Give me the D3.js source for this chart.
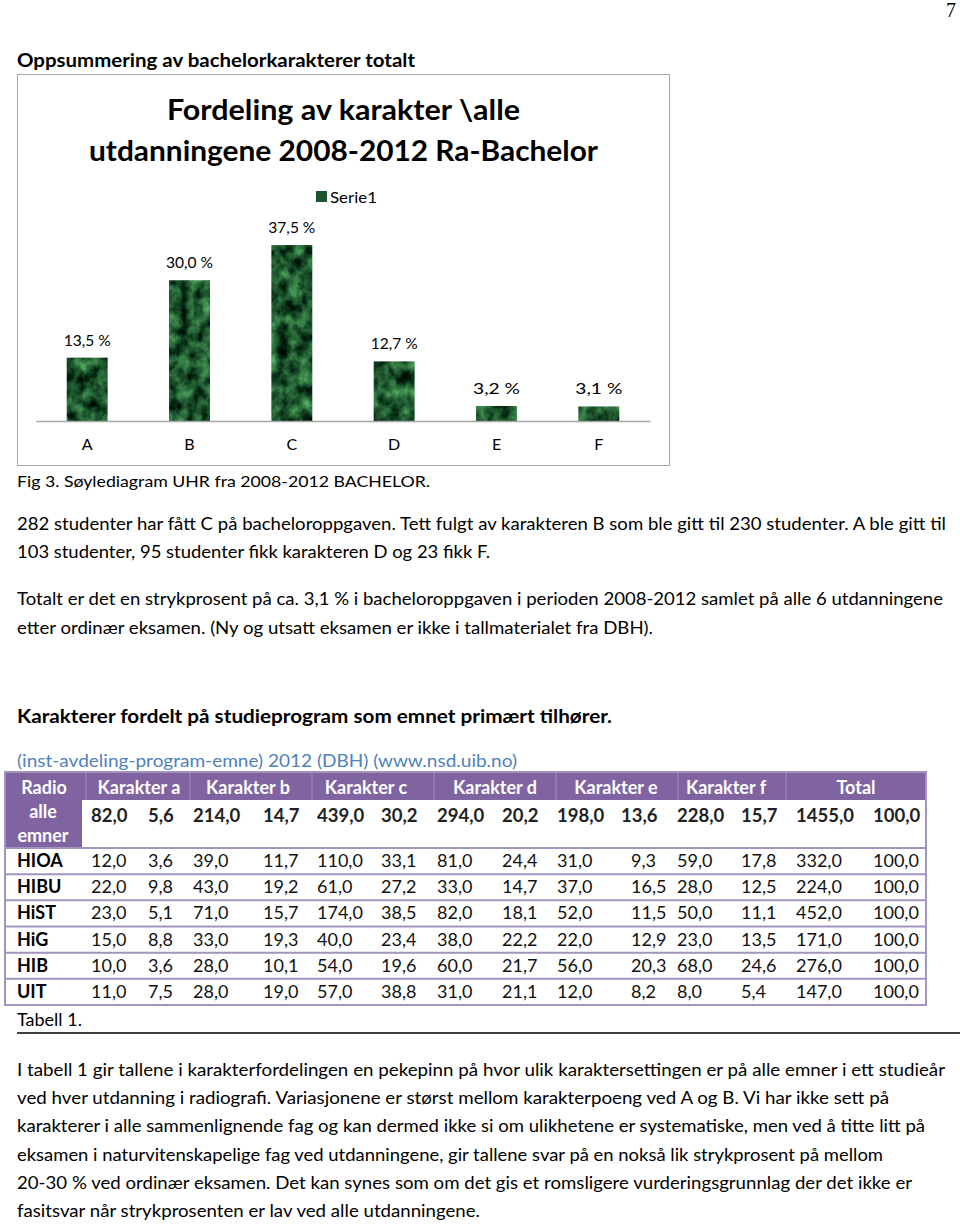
<!DOCTYPE html>
<html><head><meta charset="utf-8">
<script src="https://cdn.jsdelivr.net/npm/d3@7/dist/d3.min.js"></script>
<style>html,body{margin:0;padding:0;background:#fff}svg{display:block}</style>
</head><body><div id="c"></div>
<script>
// ---------- DATA ----------
const categories = ["A", "B", "C", "D", "E", "F"];
const percentages = [13.5, 30.0, 37.5, 12.7, 3.2, 3.1];
const seriesName = "Serie1";
const chartTitle = ["Fordeling av karakter \\alle", "utdanningene 2008-2012 Ra-Bachelor"];

const tableHeaders = ["Radio", "Karakter a", "Karakter b", "Karakter c", "Karakter d", "Karakter e", "Karakter f", "Total"];
const totalLabel = ["alle", "emner"];
const totalRow = [82.0, 5.6, 214.0, 14.7, 439.0, 30.2, 294.0, 20.2, 198.0, 13.6, 228.0, 15.7, 1455.0, 100.0];
const rowLabels = ["HIOA", "HIBU", "HiST", "HiG", "HIB", "UIT"];
const rowHIOA = [12.0, 3.6, 39.0, 11.7, 110.0, 33.1, 81.0, 24.4, 31.0, 9.3, 59.0, 17.8, 332.0, 100.0];
const rowHIBU = [22.0, 9.8, 43.0, 19.2, 61.0, 27.2, 33.0, 14.7, 37.0, 16.5, 28.0, 12.5, 224.0, 100.0];
const rowHiST = [23.0, 5.1, 71.0, 15.7, 174.0, 38.5, 82.0, 18.1, 52.0, 11.5, 50.0, 11.1, 452.0, 100.0];
const rowHiG  = [15.0, 8.8, 33.0, 19.3, 40.0, 23.4, 38.0, 22.2, 22.0, 12.9, 23.0, 13.5, 171.0, 100.0];
const rowHIB  = [10.0, 3.6, 28.0, 10.1, 54.0, 19.6, 60.0, 21.7, 56.0, 20.3, 68.0, 24.6, 276.0, 100.0];
const rowUIT  = [11.0, 7.5, 28.0, 19.0, 57.0, 38.8, 31.0, 21.1, 12.0, 8.2, 8.0, 5.4, 147.0, 100.0];
const tableRows = [rowHIOA, rowHIBU, rowHiST, rowHiG, rowHIB, rowUIT];

const pageNumber = "7";
const heading1 = "Oppsummering av bachelorkarakterer totalt";
const figCaption = "Fig 3. Søylediagram UHR fra 2008-2012 BACHELOR.";
const para1 = ["282 studenter har fått C på bacheloroppgaven. Tett fulgt av karakteren B som ble gitt til 230 studenter. A ble gitt til",
               "103 studenter, 95 studenter fikk karakteren D og 23 fikk F."];
const para2 = ["Totalt er det en strykprosent på ca. 3,1 % i bacheloroppgaven i perioden 2008-2012 samlet på alle 6 utdanningene",
               "etter ordinær eksamen. (Ny og utsatt eksamen er ikke i tallmaterialet fra DBH)."];
const heading2 = "Karakterer fordelt på studieprogram som emnet primært tilhører.";
const sourceLine = "(inst-avdeling-program-emne) 2012 (DBH) (www.nsd.uib.no)";
const tableCaption = "Tabell 1.";
const para3 = ["I tabell 1 gir tallene i karakterfordelingen en pekepinn på hvor ulik karaktersettingen er på alle emner i ett studieår",
               "ved hver utdanning i radiografi. Variasjonene er størst mellom karakterpoeng ved A og B. Vi har ikke sett på",
               "karakterer i alle sammenlignende fag og kan dermed ikke si om ulikhetene er systematiske, men ved å titte litt på",
               "eksamen i naturvitenskapelige fag ved utdanningene, gir tallene svar på en nokså lik strykprosent på mellom",
               "20-30 % ved ordinær eksamen.  Det kan synes som om det gis et romsligere vurderingsgrunnlag der det ikke er",
               "fasitsvar når strykprosenten er lav ved alle utdanningene."];

// ---------- LAYOUT (positions/sizes only) ----------
const para1Widths = [929, 473];
const para2Widths = [926, 636];
const para3Widths = [928, 872, 908, 866, 895, 463];
const colBounds = [5, 86, 190, 312, 434, 556, 678, 786, 926];
const headerCenters = [44, 139, 248, 366, 495, 616, 726, 856];
const cellX = [91, 148, 193, 263, 317, 381, 437, 502, 557, 631, 677, 741, 796, 873];
const cellXBold = [91, 148, 193, 263, 317, 381, 437, 502, 557, 621, 677, 741, 796, 873];

const FONT = "Lato, 'Open Sans', sans-serif";
const W = 960, H = 1225;
const svg = d3.select("#c").append("svg").attr("width", W).attr("height", H);

function txt(g, x, y, s, o = {}) {
  const t = g.append("text").attr("x", x).attr("y", y).text(s)
    .attr("font-family", o.family || FONT)
    .attr("font-size", o.size || 18)
    .attr("font-weight", o.weight || "normal")
    .attr("fill", o.fill || "#000")
    .attr("text-anchor", o.anchor || "start");
  if (o.width) t.attr("textLength", o.width).attr("lengthAdjust", "spacingAndGlyphs");
  return t;
}

const numFmt = d3.formatLocale({decimal: ",", thousands: "", grouping: [3], currency: ["", ""]}).format(".1f");

// page number & heading
txt(svg, 956, 17, pageNumber, {family: "'Liberation Serif', serif", size: 20, anchor: "end"});
txt(svg, 17, 67, heading1, {size: 18, weight: "bold", width: 398});

// ---------- CHART ----------
const defs = svg.append("defs");
const f = defs.append("filter").attr("id", "marble").attr("x", 0).attr("y", 0).attr("width", 1).attr("height", 1)
  .attr("color-interpolation-filters", "sRGB");
f.append("feTurbulence").attr("type", "fractalNoise").attr("baseFrequency", "0.09 0.07").attr("numOctaves", 4).attr("seed", 11).attr("result", "n");
f.append("feColorMatrix").attr("in", "n").attr("type", "matrix")
  .attr("values", "0.55 0 0 0 -0.16  0.9 0 0 0 -0.12  0.55 0 0 0 -0.1  0 0 0 0 1").attr("result", "c");
f.append("feComposite").attr("in", "c").attr("in2", "SourceGraphic").attr("operator", "in");

svg.append("rect").attr("x", 17.5).attr("y", 74.5).attr("width", 652).attr("height", 391)
  .attr("fill", "#fff").attr("stroke", "#a6a6a6").attr("stroke-width", 1);

chartTitle.forEach((t, i) => txt(svg, 343.5, 120 + i * 41, t, {size: 29, weight: "bold", anchor: "middle", width: [353, 509][i]}));

// legend
svg.append("rect").attr("x", 316).attr("y", 191).attr("width", 11).attr("height", 11).attr("fill", "#1d5530");
txt(svg, 330, 203, seriesName, {size: 16, width: 47});

const x = d3.scaleBand().domain(categories).range([36, 650]).paddingInner(0.6).paddingOuter(0.3);
const y = d3.scaleLinear().domain([0, 40]).range([421, 421 - 187.7]);

const plot = svg.append("g");
plot.selectAll("rect.bar").data(categories).join("rect").attr("class", "bar")
  .attr("x", d => x(d)).attr("width", x.bandwidth())
  .attr("y", (d, i) => y(percentages[i])).attr("height", (d, i) => y(0) - y(percentages[i]))
  .attr("fill", "#1d5530").attr("filter", "url(#marble)");

plot.selectAll("text.lbl").data(categories).join("text").attr("class", "lbl")
  .attr("x", d => x(d) + x.bandwidth() / 2).attr("y", (d, i) => y(percentages[i]) - 12)
  .attr("text-anchor", "middle").attr("font-family", FONT).attr("font-size", 16)
  .attr("textLength", 47).attr("lengthAdjust", "spacingAndGlyphs")
  .text((d, i) => numFmt(percentages[i]) + " %");

const xAxis = svg.append("g").attr("transform", `translate(0,${y(0)})`)
  .call(d3.axisBottom(x).tickSize(0).tickSizeOuter(0).tickPadding(17.5));
xAxis.select(".domain").attr("stroke", "#a6a6a6").attr("stroke-width", 1.5);
xAxis.selectAll("text").attr("font-family", FONT).attr("font-size", 16).attr("fill", "#000");

// ---------- TEXT ----------
txt(svg, 17, 487, figCaption, {size: 16, width: 413});
para1.forEach((s, i) => txt(svg, 17, 530 + i * 28, s, {size: 18, width: para1Widths[i]}));
para2.forEach((s, i) => txt(svg, 17, 605 + i * 29, s, {size: 18, width: para2Widths[i]}));
txt(svg, 17, 723, heading2, {size: 19, weight: "bold", width: 595});
txt(svg, 17, 767, sourceLine, {size: 18, fill: "#4f81bd", width: 500});

// ---------- TABLE ----------
const purple = "#8064a2", lineCol = "#a393bf";
const tb = svg.append("g");
const colX = d3.scaleOrdinal().domain(d3.range(14)).range(cellX);
const colXB = d3.scaleOrdinal().domain(d3.range(14)).range(cellXBold);
const rowY = d3.scaleBand().domain(rowLabels).range([848, 1005]);

tb.append("rect").attr("x", colBounds[0]).attr("y", 772).attr("width", colBounds[8] - colBounds[0]).attr("height", 28).attr("fill", purple);
tb.append("rect").attr("x", colBounds[0]).attr("y", 800).attr("width", 77).attr("height", 48).attr("fill", purple);
// header separators
tb.selectAll("line.hs").data(colBounds.slice(1, 8)).join("line").attr("class", "hs")
  .attr("x1", d => d).attr("x2", d => d).attr("y1", 772).attr("y2", 800)
  .attr("stroke", "#a38fc0").attr("stroke-width", 1);
// header text
tableHeaders.forEach((h, i) => txt(tb, headerCenters[i], 794, h, {size: 18, weight: "bold", fill: "#fff", anchor: "middle"}));
txt(tb, 43, 818, totalLabel[0], {size: 18, weight: "bold", fill: "#fff", anchor: "middle"});
txt(tb, 43, 842, totalLabel[1], {size: 18, weight: "bold", fill: "#fff", anchor: "middle"});
// total row
tb.selectAll("text.tot").data(totalRow).join("text").attr("class", "tot")
  .attr("x", (d, i) => colXB(i)).attr("y", 822)
  .attr("font-family", FONT).attr("font-size", 18.5).attr("font-weight", "bold").attr("fill", "#222")
  .text(d => numFmt(d));
// data rows
const rg = tb.selectAll("g.row").data(tableRows).join("g").attr("class", "row")
  .attr("transform", (d, i) => `translate(0,${rowY(rowLabels[i]) + rowY.bandwidth() / 2 + 6})`);
rg.append("text").attr("x", 17).attr("font-family", FONT).attr("font-size", 18).attr("font-weight", "bold")
  .text((d, i) => rowLabels[i]);
rg.selectAll("text.v").data(d => d).join("text").attr("class", "v")
  .attr("x", (d, i) => colX(i)).attr("font-family", FONT).attr("font-size", 18).attr("fill", "#111")
  .text(d => numFmt(d));
// row lines
tb.selectAll("line.rl").data([848].concat(rowLabels.slice(1).map(r => rowY(r)))).join("line").attr("class", "rl")
  .attr("x1", colBounds[0]).attr("x2", colBounds[8]).attr("y1", d => d).attr("y2", d => d)
  .attr("stroke", lineCol).attr("stroke-width", 2);
// outer border
tb.append("rect").attr("x", colBounds[0]).attr("y", 772).attr("width", colBounds[8] - colBounds[0]).attr("height", 1005 - 772)
  .attr("fill", "none").attr("stroke", lineCol).attr("stroke-width", 2);

txt(svg, 17, 1026, tableCaption, {size: 18});
svg.append("line").attr("x1", 17).attr("x2", 960).attr("y1", 1033).attr("y2", 1033).attr("stroke", "#000").attr("stroke-width", 1.5);

para3.forEach((s, i) => txt(svg, 17, 1076 + i * 28.2, s, {size: 18, width: para3Widths[i]}));
</script></body></html>
